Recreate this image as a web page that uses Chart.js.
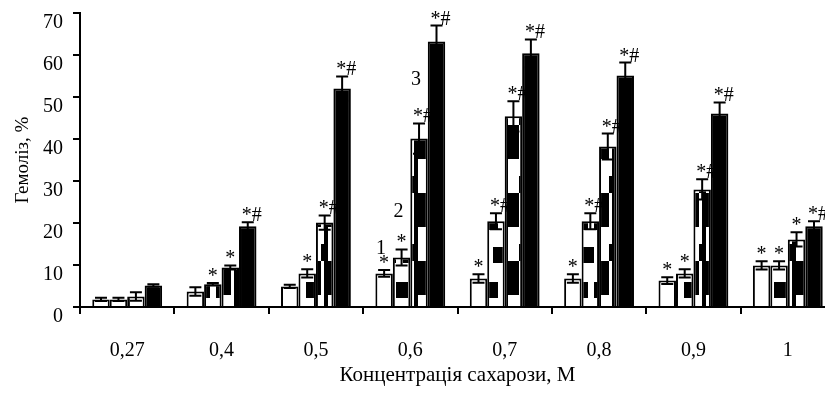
<!DOCTYPE html>
<html><head><meta charset="utf-8">
<script src="https://cdn.jsdelivr.net/npm/chart.js@4"></script>
<style>
html,body{margin:0;padding:0;background:#fff;overflow:hidden;width:825px;height:396px}
#wrap{width:838px;height:396px}
</style></head>
<body><div id="wrap"><canvas id="c" width="838" height="396"></canvas></div>
<script>
const categories = ['0,27','0,4','0,5','0,6','0,7','0,8','0,9','1'];
const series1 = [1.8, 3.7, 4.9, 8.0, 6.8, 6.8, 6.3, 9.9];
const series2 = [1.8, 5.4, 8.0, 11.8, 20.4, 20.4, 8.0, 9.9];
const series3 = [2.5, 9.4, 20.1, 40.1, 45.4, 38.2, 28.0, 16.1];
const series4 = [5.1, 19.2, 52.0, 63.2, 60.4, 55.1, 46.1, 19.2];
const error1 = [0.4, 1.0, 0.4, 0.8, 1.0, 1.0, 0.8, 1.0];
const error2 = [0.4, 0.3, 1.0, 1.9, 1.9, 1.9, 1.0, 1.0];
const error3 = [1.0, 0.5, 1.7, 3.6, 3.6, 3.1, 2.4, 1.7];
const error4 = [0.3, 1.0, 2.9, 3.8, 3.3, 3.1, 2.6, 1.2];
const marks1 = ['', '', '', '*', '*', '*', '*', '*'];
const marks2 = ['', '*', '*', '*', '*#', '*#', '*', '*'];
const marks3 = ['', '*', '*#', '*#', '*#', '*#', '*#', '*'];
const marks4 = ['', '*#', '*#', '*#', '*#', '*#', '*#', '*#'];
const seriesNumbers = ['1', '2', '3', ''];
const numberedCategory = '0,6';
const yMin = 0, yMax = 70, yStep = 10;
const xTitle = 'Концентрація сахарози, М';
const yTitle = 'Гемоліз, %';

const FONT = '"Liberation Serif", "Times New Roman", serif';

function makePattern(draw) {
  const c = document.createElement('canvas');
  c.width = 18; c.height = 68;
  const g = c.getContext('2d');
  g.fillStyle = '#fff'; g.fillRect(0, 0, 18, 68);
  g.fillStyle = '#000';
  draw(g);
  return document.getElementById('c').getContext('2d').createPattern(c, 'repeat');
}
const pattern2 = makePattern(g => {
  g.fillRect(0, 10, 12, 16);
  g.fillRect(7, 43, 11, 16);
});
const pattern3 = makePattern(g => {
  g.fillRect(0, 0, 15, 23);
  g.fillRect(0, 57, 15, 11);
  g.fillRect(0, 23, 4, 34);
  g.fillRect(15, 40, 3, 17);
});

const errorsBySeries = [error1, error2, error3, error4];
const marksBySeries = [marks1, marks2, marks3, marks4];

const overlayPlugin = {
  id: 'overlay',
  afterDatasetsDraw(chart) {
    const ctx = chart.ctx;
    const y = chart.scales.y;
    const numberLift = [16, 32, 38, 0];
    chart.data.datasets.forEach((ds, i) => {
      const meta = chart.getDatasetMeta(i);
      const errs = errorsBySeries[i];
      const marks = marksBySeries[i];
      meta.data.forEach((bar, j) => {
        const v = ds.data[j], e = errs[j];
        const yt = y.getPixelForValue(v + e);
        const yb = y.getPixelForValue(Math.max(0, v - e));
        ctx.save();
        ctx.strokeStyle = '#000';
        ctx.lineWidth = 2;
        ctx.beginPath();
        ctx.moveTo(bar.x, yt); ctx.lineTo(bar.x, yb);
        ctx.moveTo(bar.x - 6, yt); ctx.lineTo(bar.x + 6, yt);
        ctx.moveTo(bar.x - 6, yb); ctx.lineTo(bar.x + 6, yb);
        ctx.stroke();
        ctx.fillStyle = '#000';
        ctx.font = '20px ' + FONT;
        ctx.textBaseline = 'alphabetic';
        const m = marks[j];
        if (m) {
          if (m.length === 1) { ctx.textAlign = 'center'; ctx.fillText(m, bar.x, yt - 1); }
          else { ctx.textAlign = 'left'; ctx.fillText(m, bar.x - 6, yt - 1); }
        }
        if (categories[j] === numberedCategory && seriesNumbers[i]) {
          ctx.font = '20px ' + FONT;
          ctx.textAlign = 'center';
          ctx.fillText(seriesNumbers[i], bar.x - 3, yt - numberLift[i]);
        }
        ctx.restore();
      });
    });
  }
};

const common = { borderColor: '#000', borderWidth: 2, barPercentage: 1.0, categoryPercentage: 0.74 };

new Chart(document.getElementById('c'), {
  type: 'bar',
  data: {
    labels: categories,
    datasets: [
      Object.assign({ label: '1', data: series1, backgroundColor: '#fff' }, common),
      Object.assign({ label: '2', data: series2, backgroundColor: pattern2 }, common),
      Object.assign({ label: '3', data: series3, backgroundColor: pattern3 }, common),
      Object.assign({ label: '4', data: series4, backgroundColor: '#000' }, common)
    ]
  },
  options: {
    responsive: false,
    animation: false,
    events: [],
    layout: { padding: { top: 13, left: 0, right: 3, bottom: 0 } },
    plugins: { legend: { display: false }, tooltip: { enabled: false } },
    scales: {
      x: {
        offset: true,
        grid: { offset: true, drawOnChartArea: false, drawTicks: true, tickLength: 7, color: '#000', lineWidth: 2 },
        border: { display: true, color: '#000', width: 2 },
        ticks: { color: '#000', font: { family: FONT, size: 20 }, padding: 25, maxRotation: 0 },
        title: { display: true, text: xTitle, color: '#000', font: { family: FONT, size: 21 }, padding: { top: 0, bottom: 8 } },
        afterFit(scale) { scale.height = 89; }
      },
      y: {
        min: yMin, max: yMax,
        ticks: { stepSize: yStep, color: '#000', font: { family: FONT, size: 20 }, padding: 10, labelOffset: 10 },
        grid: { drawOnChartArea: false, drawTicks: true, tickLength: 7, color: '#000', lineWidth: 2 },
        border: { display: true, color: '#000', width: 2 },
        title: { display: true, text: yTitle, color: '#000', font: { family: FONT, size: 19 }, padding: { top: 12, bottom: 0 } },
        afterFit(scale) { scale.width = 80; scale.paddingTop = 0; scale.paddingBottom = 0; }
      }
    }
  },
  plugins: [overlayPlugin]
});
</script>
</body></html>
